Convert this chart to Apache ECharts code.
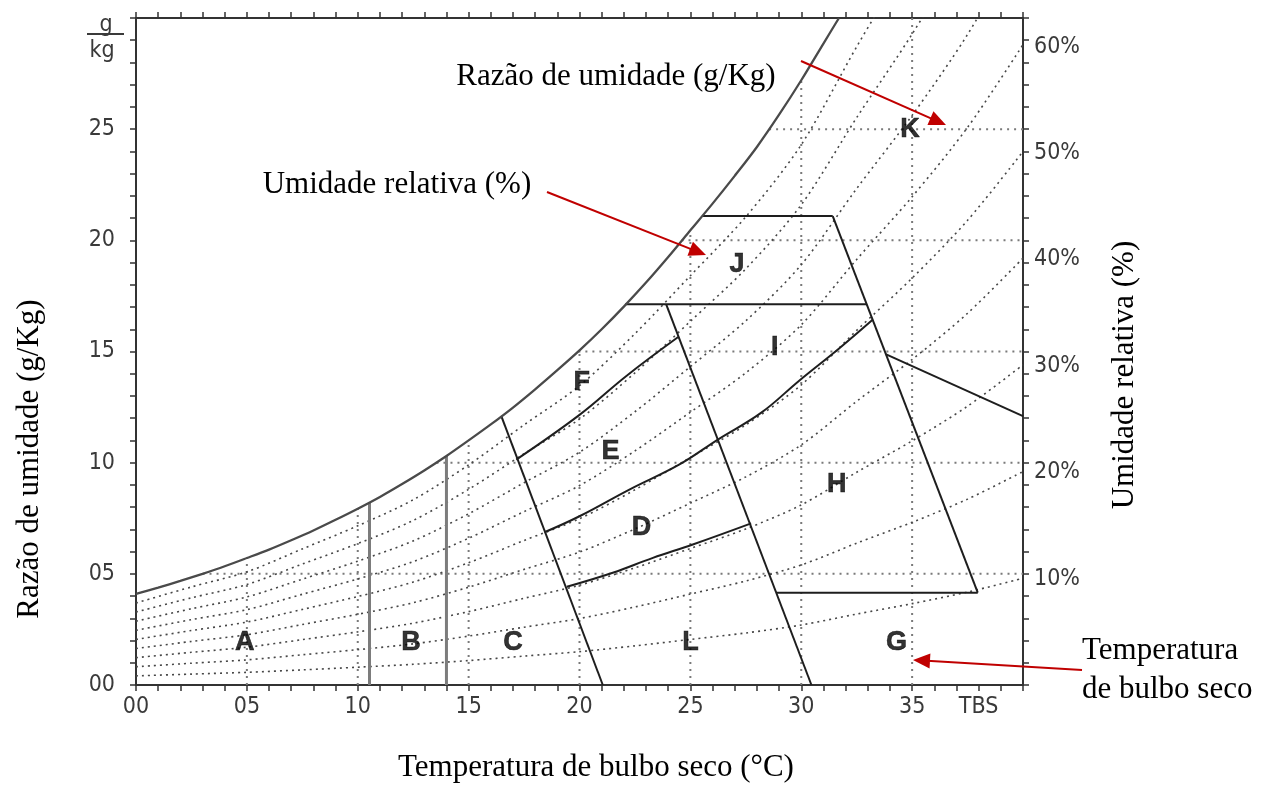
<!DOCTYPE html>
<html><head><meta charset="utf-8">
<script src="https://cdn.jsdelivr.net/npm/echarts@6/dist/echarts.min.js"></script>
<style>html,body{margin:0;padding:0;background:#fff}#c{width:1268px;height:787px}</style>
</head><body><div id="c"></div><script>
// ---------- data ----------
const xTickLabels = {0:'00',5:'05',10:'10',15:'15',20:'20',25:'25',30:'30',35:'35',38:'TBS'};
const yTickLabels = {0:'00',5:'05',10:'10',15:'15',20:'20',25:'25'};
const rhTickLabels = [10,20,30,40,50,60];

// saturation curve (100% RH)
const satT = [0,1,2,3,4,5,6,7,8,9,10,11,12,13,14,15,16,17,18,19,20,21,22,23,24,25,26,27,28,29,30,31,31.7];
const satW = [4.1,4.38,4.68,5.0,5.34,5.71,6.09,6.51,6.95,7.43,7.93,8.46,9.04,9.65,10.3,11.0,11.72,12.48,13.3,14.16,15.05,16.0,17.02,18.1,19.25,20.45,21.65,22.9,24.2,25.65,27.2,28.85,30];

// relative humidity curves (dotted), 10% .. 90%
const rhT  = [0,2.5,5,7.5,10,12.5,15,17.5,20,22.5,25,27.5,30,32.5,35,37.5,40];
const rh10 = [0.41,0.49,0.57,0.68,0.80,0.93,1.10,1.30,1.50,1.76,2.05,2.34,2.70,3.19,3.66,4.18,4.80];
const rh20 = [0.82,0.98,1.13,1.36,1.59,1.85,2.20,2.60,2.99,3.51,4.09,4.68,5.40,6.38,7.32,8.36,9.60];
const rh30 = [1.23,1.47,1.70,2.04,2.39,2.78,3.30,3.90,4.49,5.27,6.14,7.02,8.10,9.57,10.98,12.54,14.40];
const rh40 = [1.64,1.96,2.26,2.72,3.18,3.70,4.40,5.20,5.98,7.02,8.18,9.36,10.80,12.76,14.64,16.72,19.20];
const rh50 = [2.05,2.45,2.83,3.40,3.98,4.63,5.50,6.50,7.48,8.78,10.23,11.70,13.50,15.95,18.30,20.90,24.00];
const rh60 = [2.46,2.94,3.39,4.08,4.77,5.55,6.60,7.80,8.97,10.53,12.27,14.04,16.20,19.14,21.96,25.08,28.80];
const rh70 = [2.87,3.43,3.96,4.76,5.57,6.48,7.70,9.10,10.47,12.29,14.32,16.38,18.90,22.33,25.62,29.26,33.60];
const rh80 = [3.28,3.92,4.52,5.44,6.36,7.40,8.80,10.40,11.96,14.04,16.36,18.72,21.60,25.52,29.28,33.44,38.40];
const rh90 = [3.69,4.41,5.09,6.12,7.16,8.33,9.90,11.70,13.46,15.80,18.41,21.06,24.30,28.71,32.94,37.62,43.20];

// dotted grid (only under the saturation curve)
const gridVT   = [5,10,15,20,25,30,35];
const gridVTop = [5.71,7.93,11.0,15.05,20.45,27.2,30];
const gridHW     = [5,10,15,20,25];
const gridHStart = [3.0,13.55,19.95,24.6,28.55];

// zone boundaries [T, W]
const lineAB      = [[10.53,0],[10.53,8.21]];
const lineBC      = [[14.0,0],[14.0,10.3]];
const lineC       = [[16.47,12.1],[21.05,0]];
const lineL       = [[23.91,17.12],[30.46,0]];
const lineJTop    = [[25.56,21.09],[31.42,21.09]];
const lineRight   = [[31.42,21.09],[37.96,4.15]];
const lineJBottom = [[22.06,17.12],[32.95,17.12]];
const lineHBottom = [[28.87,4.15],[37.96,4.15]];
const lineK       = [[33.83,14.87],[40,12.09]];
const curveD = [[19.43,4.42],[21.5,5.05],[23.31,5.72],[25.11,6.32],[27.74,7.27]];
const curveH = [[18.42,6.87],[20.0,7.59],[22.25,8.79],[24.51,9.92],[26.24,11.04],[28.2,12.25],[29.92,13.7],[31.72,15.15],[33.23,16.44]];
const curveF = [[17.15,10.14],[20.0,12.15],[22.1,13.89],[24.45,15.65]];

// zone letters
const zoneNames = ['A','B','C','L','G','D','E','F','I','H','J','K'];
const zoneT     = [4.9,12.4,17.0,25.0,34.3,22.8,21.4,20.1,28.8,31.6,27.1,34.9];
const zoneW     = [1.9,1.9,1.9,1.9,1.9,7.1,10.5,13.6,15.2,9.0,18.9,25.0];

// ---------- chart ----------
const tickFont = "'Liberation Sans Narrow','DejaVu Sans Condensed','Liberation Sans',sans-serif";
const serif = "'Liberation Serif','Times New Roman',serif";
const axisCol = '#333';

function ls(data, style, smooth, z){
  return {type:'line', data, symbol:'none', showSymbol:false, smooth: smooth||false,
          lineStyle: style, silent:true, animation:false, z: z||2, clip:true};
}
const series = [];
const gridDot = {type:[2,5], width:2, color:'#7a7a7a'};
gridVT.forEach((t,i)=>series.push(ls([[t,0],[t,gridVTop[i]]], gridDot, false, 1)));
gridHW.forEach((w,i)=>series.push(ls([[gridHStart[i],w],[40,w]], gridDot, false, 1)));
const rhDot = {type:[2,4], width:1.6, color:'#474747'};
[rh10,rh20,rh30,rh40,rh50,rh60,rh70,rh80,rh90].forEach(arr=>{
  series.push(ls(rhT.map((t,i)=>[t,arr[i]]), rhDot, 0.3, 2));
});
const zoneStyle = {color:'#1e1e1e', width:2};
[lineC,lineL,lineJTop,lineRight,lineJBottom,lineHBottom,lineK].forEach(d=>series.push(ls(d, zoneStyle, false, 4)));
[curveD,curveH,curveF].forEach(d=>series.push(ls(d, zoneStyle, 0.4, 4)));
[lineAB,lineBC].forEach(d=>series.push(ls(d, {color:'#7c7c7c', width:3}, false, 4)));
series.push(ls(satT.map((t,i)=>[t,satW[i]]), {color:'#4a4a4a', width:2.3}, 0.3, 5));
series.push({type:'scatter', symbolSize:0, silent:true, animation:false, z:6,
  data: zoneNames.map((n,i)=>({name:n, value:[zoneT[i], zoneW[i]]})),
  label:{show:true, position:'inside', formatter:'{b}', fontSize:27, fontWeight:'bold',
         fontFamily:"'Liberation Sans',Arial,sans-serif", color:'#000', textBorderColor:'#000', textBorderWidth:0.6}});

const tickStyle = {show:true, inside:false, length:6, lineStyle:{color:axisCol, width:1.5}};
const lineStyleAx = {show:true, onZero:false, lineStyle:{color:axisCol, width:2}};
const labelBase = {color:'#3a3a3a', fontSize:23, fontFamily:tickFont};

function arrow(x1,y1,x2,y2){
  const dx=x2-x1, dy=y2-y1, L=Math.hypot(dx,dy), ux=dx/L, uy=dy/L;
  const hl=17, hw=7.5, bx=x2-ux*hl, by=y2-uy*hl;
  return [
    {type:'line', shape:{x1,y1,x2:bx+ux*3,y2:by+uy*3}, style:{stroke:'#c00000', lineWidth:2}, z:10},
    {type:'polygon', shape:{points:[[x2,y2],[bx-uy*hw,by+ux*hw],[bx+uy*hw,by-ux*hw]]}, style:{fill:'#c00000'}, z:10}
  ];
}
function txt(text, x, y, opt){
  return Object.assign({type:'text', x, y, z:10, style:Object.assign({text, fill:'#000', font:'31px '+serif, align:'center', verticalAlign:'middle'}, (opt&&opt.style)||{})}, opt&&opt.rot?{rotation:opt.rot}:{});
}
function pick(map, v){
  const r = Math.round(v);
  return (map[r]!==undefined && Math.abs(v-r)<1e-6) ? map[r] : '';
}

const option = {
  backgroundColor:'#fff',
  animation:false,
  grid:{left:136, top:18, width:887, height:667, containLabel:false},
  xAxis:[
    {type:'value', min:0, max:40, interval:1, position:'bottom', axisLine:lineStyleAx, axisTick:tickStyle,
     axisLabel:Object.assign({margin:11, formatter:v=>pick(xTickLabels,v)}, labelBase),
     splitLine:{show:false}},
    {type:'value', min:0, max:40, interval:1, position:'top', axisLine:lineStyleAx, axisTick:tickStyle,
     axisLabel:{show:false}, splitLine:{show:false}}
  ],
  yAxis:[
    {type:'value', min:0, max:30, interval:1, position:'left', axisLine:lineStyleAx, axisTick:tickStyle,
     axisLabel:Object.assign({margin:21, formatter:v=>pick(yTickLabels,v)}, labelBase),
     splitLine:{show:false}},
    {type:'value', min:0, max:30, interval:1, position:'right', axisLine:lineStyleAx, axisTick:tickStyle,
     axisLabel:{show:false}, splitLine:{show:false}},
    {type:'value', min:0, max:62.7, interval:10, position:'right', axisLine:{show:false}, axisTick:{show:false},
     axisLabel:Object.assign({margin:11, formatter:v=>{const r=Math.round(v); return (rhTickLabels.indexOf(r)>=0 && Math.abs(v-r)<1e-6) ? r+'%' : '';}}, labelBase),
     splitLine:{show:false}}
  ],
  series: series,
  graphic:[
    txt('Temperatura de bulbo seco (°C)', 596, 768),
    txt('Razão de umidade (g/Kg)', 30, 459, {rot:Math.PI/2}),
    txt('Umidade relativa (%)', 1125, 375, {rot:Math.PI/2}),
    txt('Razão de umidade (g/Kg)', 616, 77),
    txt('Umidade relativa (%)', 397, 185),
    txt('Temperatura', 1082, 651, {style:{align:'left'}}),
    txt('de bulbo seco', 1082, 690, {style:{align:'left'}}),
    txt('g', 106, 37, {style:{font:'23px '+tickFont, fill:'#3a3a3a', verticalAlign:'bottom'}}),
    txt('kg', 102, 40, {style:{font:'23px '+tickFont, fill:'#3a3a3a', verticalAlign:'top'}}),
    {type:'line', shape:{x1:87, y1:34, x2:124, y2:34}, style:{stroke:'#3a3a3a', lineWidth:2}, z:10},
    ...arrow(801,61,946,125),
    ...arrow(547,192,706,255),
    ...arrow(1082,670,913,660)
  ]
};
const chart = echarts.init(document.getElementById('c'), null, {renderer:'canvas'});
chart.setOption(option);
</script></body></html>
